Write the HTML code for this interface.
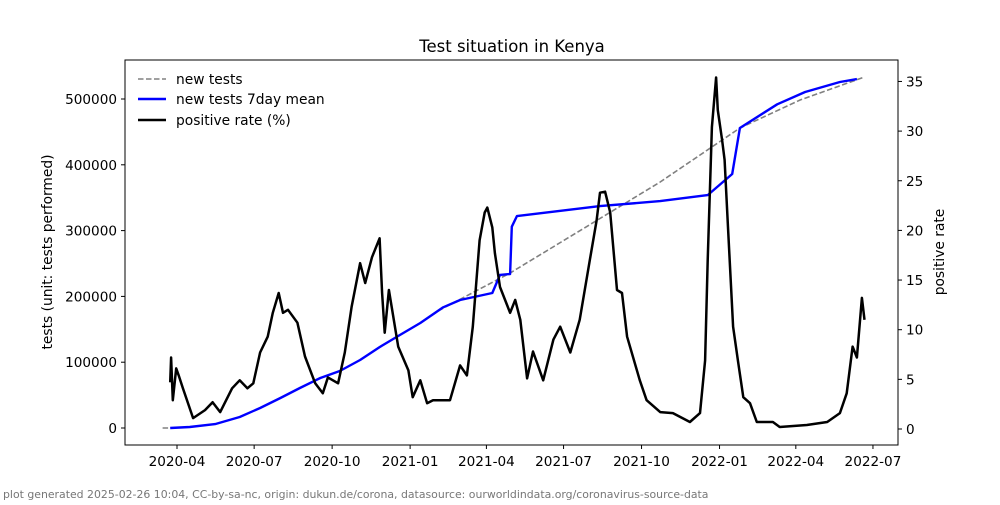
<!DOCTYPE html>
<html><head><meta charset="utf-8"><style>
body{margin:0;background:#fff;}
svg text{font-family:"DejaVu Sans","Liberation Sans",sans-serif;}
</style></head><body>
<svg id="chart" width="1000" height="500" viewBox="0 0 1000 500" xmlns="http://www.w3.org/2000/svg">
<text x="512" y="52" text-anchor="middle" font-size="16.5">Test situation in Kenya</text>
<g id="axes"></g>
<g id="plot"></g>
<rect x="125" y="60" width="773" height="385" fill="none" stroke="#000" stroke-width="1"/>
<text transform="translate(52,252) rotate(-90)" text-anchor="middle" font-size="13.8">tests (unit: tests performed)</text>
<text transform="translate(944,252) rotate(-90)" text-anchor="middle" font-size="13.8">positive rate</text>
<g>
<line x1="138" y1="79" x2="166" y2="79" stroke="#808080" stroke-width="1.6" stroke-dasharray="5.5,2.5"/>
<text x="176" y="84" font-size="13.8">new tests</text>
<line x1="138" y1="99" x2="166" y2="99" stroke="#0000ff" stroke-width="2.4"/>
<text x="176" y="104" font-size="13.8">new tests 7day mean</text>
<line x1="138" y1="120" x2="166" y2="120" stroke="#000" stroke-width="2.4"/>
<text x="176" y="125" font-size="13.8">positive rate (%)</text>
</g>
<text x="3" y="498" font-size="10.9" fill="#777">plot generated 2025-02-26 10:04, CC-by-sa-nc, origin: dukun.de/corona, datasource: ourworldindata.org/coronavirus-source-data</text>
</svg>
<script>
// days since 2020-04-01
const rateDays=[-8,-7,-5,-1,2,7,19,33,42,51,65,74,83,90,98,107,113,120,125,131,142,151,163,172,178,190,198,206,216,222,230,239,242,245,250,261,273,278,287,295,302,322,334,342,349,357,363,366,372,375,381,393,399,405,413,420,432,444,452,464,475,487,495,499,505,511,519,525,531,546,554,570,585,605,617,623,626,631,636,638,643,646,650,656,662,668,676,684,703,711,743,767,782,790,797,802,808,811];
const rateVals=[4.7,7.2,2.9,6.1,5.4,4.1,1.1,1.9,2.7,1.7,4.1,4.9,4.1,4.6,7.7,9.3,11.7,13.7,11.7,12.0,10.7,7.3,4.6,3.6,5.2,4.6,7.7,12.3,16.7,14.7,17.3,19.2,13.7,9.7,14.0,8.3,5.9,3.2,4.9,2.6,2.9,2.9,6.4,5.4,10.3,19.0,21.8,22.3,20.3,17.7,14.3,11.7,13.0,11.0,5.1,7.8,4.9,9.0,10.3,7.7,11.0,17.0,21.0,23.8,23.9,21.8,14.0,13.7,9.3,4.9,2.9,1.7,1.6,0.7,1.6,6.9,17.0,30.4,35.4,32.1,29.1,27.1,20.3,10.3,6.7,3.2,2.6,0.7,0.7,0.2,0.4,0.7,1.6,3.6,8.3,7.2,13.2,11.0];
const meanDays=[-8,15,45,74,98,122,145,169,192,216,239,263,287,314,334,372,381,393,395,401,499,570,626,655,664,708,741,782,802];
const meanVals=[0,1500,6000,16700,30400,45600,60800,76000,86600,103300,123000,141400,159600,183400,194500,205200,232600,234100,306000,322100,337300,344900,354000,386000,455900,492000,510600,525800,530300];
const testDays=[-17,-8,15,45,74,98,122,145,169,192,216,239,263,287,310,393,570,664,735,811];
const testVals=[0,0,1500,6000,16700,30400,45600,60800,76000,86600,103300,123000,141400,159600,179300,235600,373900,455900,498500,533400];
const leftTicks=[0,100000,200000,300000,400000,500000];
const rightTicks=[0,5,10,15,20,25,30,35];
const xTickLabels=["2020-04","2020-07","2020-10","2021-01","2021-04","2021-07","2021-10","2022-01","2022-04","2022-07"];
const xTickDays=[0,91,183,275,365,456,548,640,730,821];

const NS="http://www.w3.org/2000/svg";
const X=d=>177+d*0.8477;
const YL=v=>428-v*0.000658;
const YR=v=>429-v*9.93;
const axes=document.getElementById('axes'),plot=document.getElementById('plot');
function mk(tag,attrs,parent,txt){const e=document.createElementNS(NS,tag);for(const k in attrs)e.setAttribute(k,attrs[k]);if(txt!==undefined)e.textContent=txt;parent.appendChild(e);return e;}
leftTicks.forEach(v=>{const y=YL(v);
 const t=mk('line',{x1:121,x2:125,y1:y,y2:y,stroke:'#000'},axes);
 
 
 const l=mk('text',{x:117,y:y+5,'text-anchor':'end','font-size':13.6},axes,String(v));
 
 });
rightTicks.forEach(v=>{const y=YR(v);
 const t=mk('line',{x1:898,x2:902,y1:y,y2:y,stroke:'#000'},axes);
 
 
 const l=mk('text',{x:906,y:y+5,'font-size':13.6},axes,String(v));
 
 });
xTickDays.forEach((d,i)=>{const x=X(d);
 const t=mk('line',{x1:x,x2:x,y1:445,y2:449,stroke:'#000'},axes);
 
 
 const l=mk('text',{x:x,y:466,'text-anchor':'middle','font-size':13.6},axes,xTickLabels[i]);
 
 });
const pts=(ds,vs,f)=>ds.map((d,i)=>X(d).toFixed(1)+','+f(vs[i]).toFixed(1)).join(' ');
const g=mk('polyline',{points:pts(testDays,testVals,YL),fill:'none',stroke:'#808080','stroke-width':1.6,'stroke-dasharray':'5.5,2.5'},plot);


const b=mk('polyline',{points:pts(meanDays,meanVals,YL),fill:'none',stroke:'#0000ff','stroke-width':2.4,'stroke-linejoin':'round'},plot);


const k=mk('polyline',{points:pts(rateDays,rateVals,YR),fill:'none',stroke:'#000','stroke-width':2.5,'stroke-linejoin':'round'},plot);


</script>
</body></html>
